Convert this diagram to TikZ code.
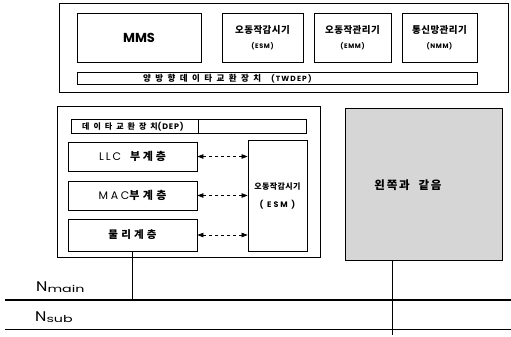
\documentclass[tikz,border=0pt]{standalone}
\usepackage{fontspec}
\setmainfont{Poppins}
\IfFontExistsTF{Noto Sans CJK KR Black}
  {\newfontfamily\krb{Noto Sans CJK KR Black}}
  {\newfontfamily\krb{Noto Sans CJK KR}[FakeBold=4]}
\usetikzlibrary{fit,arrows.meta}
\newcommand\KS[2]{{\krb\addfontfeature{LetterSpace=#1}#2}}
\begin{document}
\begin{tikzpicture}[x=1pt,y=-1pt,
  box/.style={draw, line width=0.8pt, inner sep=0pt},
  frame/.style={draw, line width=0.7pt, inner sep=0pt},
  txt/.style={inner sep=0pt, anchor=center, align=center},
  duplex/.style={line width=0.7pt, dash pattern=on 3pt off 3pt,
    {Triangle[length=6pt,width=4.5pt]}-{Triangle[length=6pt,width=4.5pt]}},
  bus/.style={line width=1.8pt},
  subbus/.style={line width=0.8pt},
  link/.style={line width=0.6pt}]
\useasboundingbox (0,0) rectangle (511,337);

% upper station
\node[frame, fit={(59,3) (508,92)}] (upper) {};
\node[box, fit={(77,13) (201,62)}] (mms) {};
\node[box, fit={(222,13) (303,62)}] (esm) {};
\node[box, fit={(314,13) (391,62)}] (emm) {};
\node[box, fit={(402,13) (477,62)}] (nmm) {};
\node[box, fit={(77,72) (477,84)}] (twdep) {};
\node[txt] (mmst) at (mms.center) {\fontsize{13}{15}\selectfont\bfseries MMS};
\node[txt] (esmt) at (esm.center) {\fontsize{9.5}{11}\selectfont\KS{5}{오동작감시기}\\[3pt]\fontsize{6.5}{8}\selectfont\bfseries\addfontfeature{LetterSpace=10}(ESM)};
\node[txt] (emmt) at (emm.center) {\fontsize{9.5}{11}\selectfont\KS{5}{오동작관리기}\\[3pt]\fontsize{6.5}{8}\selectfont\bfseries\addfontfeature{LetterSpace=10}(EMM)};
\node[txt] (nmmt) at (nmm.center) {\fontsize{9.5}{11}\selectfont\KS{5}{통신망관리기}\\[3pt]\fontsize{6.5}{8}\selectfont\bfseries\addfontfeature{LetterSpace=10}(NMM)};
\node[txt, anchor=west] (twdept) at (143,78.5) {\fontsize{8.5}{10}\selectfont\KS{52}{양방향데이타교환장치}\hspace{10pt}{\fontsize{7.5}{8}\selectfont\bfseries\addfontfeature{LetterSpace=15}(TWDEP)}};

% lower left station
\node[frame, fit={(57,106) (320,257)}] (lower) {};
\node[box, fit={(71,119) (306,133)}] (depbar) {};
\node[box, fit={(71,119) (198,133)}] (dep) {};
\node[txt, anchor=west] (dept) at (82,126.5) {\fontsize{8}{9}\selectfont\KS{50}{데이타교환장치}{\bfseries\addfontfeature{LetterSpace=10}(DEP)}};
\node[box, fit={(68,142) (197,171)}] (llc) {};
\node[box, fit={(68,181) (197,210)}] (mac) {};
\node[box, fit={(68,219) (197,251)}] (phy) {};
\node[box, fit={(248,140) (307,251)}] (esm2) {};
\node[txt] (llct) at (llc.center) {\fontsize{11}{13}\selectfont{\addfontfeature{LetterSpace=18}LLC}\hspace{9pt}\KS{25}{부계층}};
\node[txt] (mact) at (mac.center) {\fontsize{11}{13}\selectfont{\addfontfeature{LetterSpace=25}MAC}\KS{30}{부계층}};
\node[txt] (phyt) at (phy.center) {\fontsize{10.5}{13}\selectfont\KS{30}{물리계층}};
\node[txt] (esm2t) at (esm2.center) {\fontsize{8}{10}\selectfont\KS{5}{오동작감시기}\\[6pt]\fontsize{8}{10}\selectfont\bfseries\addfontfeature{LetterSpace=25}( ESM )};

\draw[duplex] (llc.east) -- (llc.east -| esm2.west);
\draw[duplex] (mac.east) -- (mac.east -| esm2.west);
\draw[duplex] (phy.east) -- (phy.east -| esm2.west);

% lower right station
\node[box, fill=black!16, fit={(345,108) (502,260)}] (right) {};
\node[txt] (rightt) at (408,185) {\fontsize{11.5}{13}\selectfont\KS{15}{왼쪽과}\hspace{9pt}\KS{15}{같음}};

% buses
\coordinate (m0) at (5,300);
\coordinate (m1) at (511,300);
\coordinate (s0) at (5,329);
\coordinate (s1) at (511,329);
\draw[bus] (m0) -- (m1);
\draw[subbus] (s0) -- (s1);
\node[anchor=west, inner sep=0pt] (nmain) at (36,287) {\scalebox{1.15}[1]{\fontsize{14}{15}\selectfont N}\raisebox{-1pt}{\scalebox{1.5}[1]{\fontsize{9.5}{10}\selectfont main}}};
\node[anchor=west, inner sep=0pt] (nsub) at (35,317) {\scalebox{1.15}[1]{\fontsize{14}{15}\selectfont N}\raisebox{-1pt}{\scalebox{1.5}[1]{\fontsize{9.5}{10}\selectfont sub}}};

\coordinate (rtap) at (392,260);
\coordinate (rend) at (392,335);
\draw[link] (phy.south) -- (phy.south |- m0);
\draw[link] (right.south -| rtap) -- (rend);
\end{tikzpicture}
\end{document}
